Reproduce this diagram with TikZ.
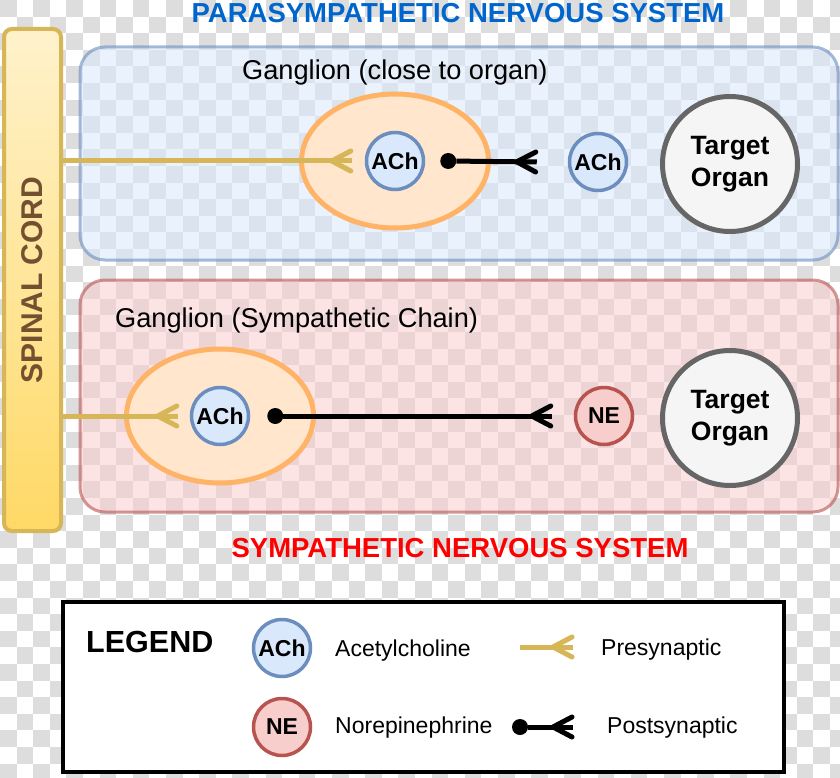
\documentclass[tikz,border=0pt]{standalone}
\usepackage{fontspec}
\setmainfont{Liberation Sans}
\usetikzlibrary{shapes.geometric,positioning,decorations.markings}

\definecolor{checkgray}{RGB}{221,221,221}
\definecolor{paraFill}{HTML}{DAE8FC}
\definecolor{paraLine}{HTML}{6C8EBF}
\definecolor{sympFill}{HTML}{F8CECC}
\definecolor{sympLine}{HTML}{B85450}
\definecolor{gangFill}{HTML}{FFE6CC}
\definecolor{gangLine}{HTML}{FFB366}
\definecolor{cordLine}{HTML}{D6B656}
\definecolor{cordTop}{HTML}{FFF2CC}
\definecolor{cordLow}{HTML}{FFD966}
\definecolor{cordText}{HTML}{735030}
\definecolor{organFill}{HTML}{F5F5F5}
\definecolor{organLine}{HTML}{666666}
\definecolor{titleBlue}{HTML}{0066CC}
\definecolor{titleRed}{HTML}{FF0000}

\tikzset{
  foot/.style={postaction={decorate,decoration={markings,
    mark=at position 1 with {\draw[#1,line width=5pt,line join=round,line cap=round] (-1,10) -- (-20,0) -- (-1,-10);}}}},
  pre/.style={draw=cordLine,line width=5pt,foot=cordLine},
  post/.style={draw=black,line width=5pt,foot=black},
  sysbox/.style={rectangle,rounded corners=25pt,line width=3pt,fill opacity=0.55,draw opacity=0.6},
  cord/.style={rectangle,rounded corners=8pt,draw=cordLine,line width=4pt,top color=cordTop,bottom color=cordLow,
    minimum width=57pt,minimum height=502pt,inner sep=0pt,text=cordText,font=\fontsize{30}{32}\selectfont\bfseries},
  ganglion/.style={ellipse,draw=gangLine,fill=gangFill,line width=5pt,minimum width=187pt,minimum height=134pt,inner sep=0pt},
  ach/.style={circle,draw=paraLine,fill=paraFill,line width=3.5pt,minimum size=57pt,inner sep=0pt,font=\fontsize{23}{25}\selectfont\bfseries},
  ne/.style={ach,draw=sympLine,fill=sympFill},
  organ/.style={circle,draw=organLine,fill=organFill,line width=5pt,minimum size=135pt,inner sep=0pt,align=center,
    font=\fontsize{26.5}{32}\selectfont\bfseries},
  knob/.style={circle,fill=black,minimum size=16pt,inner sep=0pt},
  title/.style={inner sep=0pt,anchor=base,font=\fontsize{27.5}{30}\selectfont\bfseries},
  caption/.style={inner sep=0pt,anchor=base west,font=\fontsize{27.2}{30}\selectfont},
  legtext/.style={inner sep=0pt,anchor=base west,font=\fontsize{23}{26}\selectfont}
}

\begin{document}
\begin{tikzpicture}[x=1pt,y=-1pt]
  \useasboundingbox (0,0) rectangle (840,778);
  \fill[white] (0,0) rectangle (840,778);
  % transparency checker
  \foreach \i in {0,...,50}{
    \foreach \j in {0,...,46}{
      \pgfmathtruncatemacro\k{\i+\j}
      \ifodd\k\else\fill[checkgray] (\i*16.6,\j*16.6) rectangle ++(16.6,16.6);\fi
    }
  }

  % the two systems
  \node[sysbox,draw=paraLine,fill=paraFill,minimum width=758pt,minimum height=213pt] (para) at (459,153.5) {};
  \node[sysbox,draw=sympLine,fill=sympFill,minimum width=758pt,minimum height=232pt] (symp) at (459,396) {};
  \node[title,text=titleBlue] (paraTitle) at (458,23) {PARASYMPATHETIC NERVOUS SYSTEM};
  \node[title,text=titleRed] (sympTitle) at (460,557) {SYMPATHETIC NERVOUS SYSTEM};

  \node[cord] (cord) at (32.5,280) {\rotatebox{90}{SPINAL CORD}};

  % parasympathetic
  \node[caption] (paraCap) at (242,80) {Ganglion (close to organ)};
  \node[ganglion] (gangP) at (395,161) {};
  \node[ach] (achP) at (gangP) {ACh};
  \node[ach] (achP2) at (598,162) {ACh};
  \node[organ] (organP) at (730,164) {Target\\Organ};
  \node[knob] (knobP) at ([xshift=23pt]achP.east) {};
  \coordinate (tipP) at ([xshift=-13pt]achP.west);
  \coordinate (endP) at ([xshift=-31pt]achP2.west);

  % sympathetic
  \node[caption] (sympCap) at (115,327) {Ganglion (Sympathetic Chain)};
  \node[ganglion] (gangS) at (220,416) {};
  \node[ach] (achS) at (gangS) {ACh};
  \node[ne] (neS) at (604,416) {NE};
  \node[organ] (organS) at (730,418) {Target\\Organ};
  \node[knob] (knobS) at ([xshift=25pt]achS.east) {};
  \coordinate (tipS) at ([xshift=-12pt]achS.west);
  \coordinate (endS) at ([xshift=-22pt]neS.west);

  \draw[pre] (cord.east |- achP) -- (tipP);
  \draw[post] (knobP) -- (endP);
  \draw[pre] (cord.east |- achS) -- (tipS);
  \draw[post] (knobS) -- (endS);

  % legend
  \node[draw,line width=4pt,fill=white,minimum width=721pt,minimum height=170pt] (legend) at (423.4,687) {};
  \node[inner sep=0pt,anchor=base west,font=\fontsize{30.5}{32}\selectfont\bfseries] (legTitle) at (86,652) {LEGEND};
  \node[ach] (legAch) at (282,648) {ACh};
  \node[ne] (legNe) at (282,727) {NE};
  \node[legtext] (legAchText) at (335,656) {Acetylcholine};
  \node[legtext] (legNeText) at (335,733) {Norepinephrine};
  \coordinate (preA) at (520,647);
  \coordinate (preB) at (573,647);
  \draw[pre] (preA) -- (preB);
  \node[legtext] (preText) at (601,655) {Presynaptic};
  \node[knob] (knobL) at (520,727) {};
  \coordinate (postB) at (573,727);
  \draw[post] (knobL) -- (postB);
  \node[legtext] (postText) at (607,733) {Postsynaptic};
\end{tikzpicture}
\end{document}
